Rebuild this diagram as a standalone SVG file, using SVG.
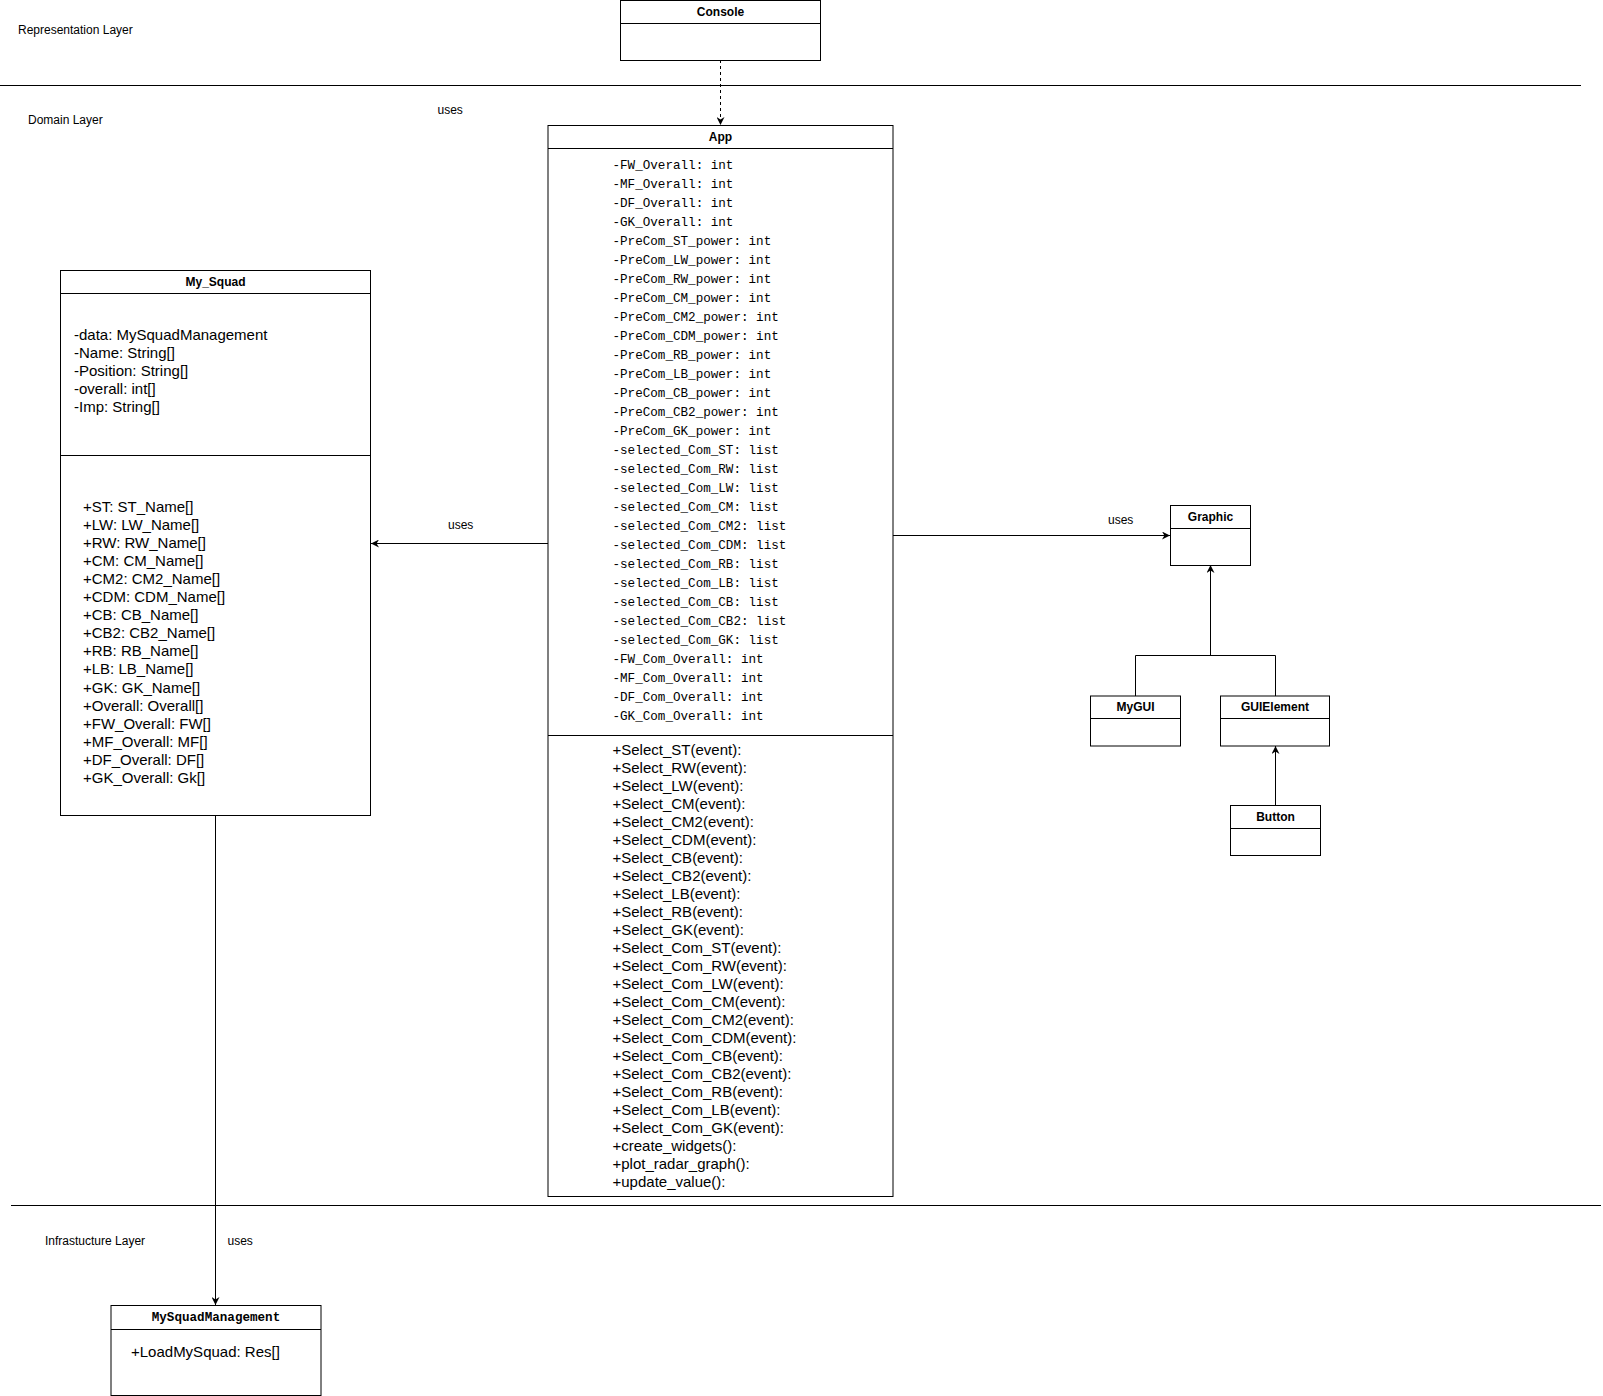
<svg xmlns="http://www.w3.org/2000/svg" width="1603" height="1396" viewBox="0 0 1603 1396">
<style>
.box{fill:#fff;stroke:#000;stroke-width:1}
.ln{stroke:#000;stroke-width:1;fill:none}
.title{font-family:"Liberation Sans",Arial,sans-serif;font-size:12px;font-weight:bold;text-anchor:middle;dominant-baseline:central}
.lbl{font-family:"Liberation Sans",Arial,sans-serif;font-size:12px;dominant-baseline:central}
.t15{font-family:"Liberation Sans",Arial,sans-serif;font-size:15px;dominant-baseline:central}
.mono{font-family:"Liberation Mono","DejaVu Sans Mono",monospace;font-size:12.6px;dominant-baseline:central}
.monob{font-family:"Liberation Mono","DejaVu Sans Mono",monospace;font-size:12.6px;font-weight:bold;text-anchor:middle;dominant-baseline:central}
</style>
<defs>
<marker id="arr" viewBox="0 0 10 10" refX="10" refY="5" markerWidth="8" markerHeight="8" markerUnits="userSpaceOnUse" orient="auto">
<path d="M0,0 L10,5 L0,10 L3,5 Z" fill="#000"/>
</marker>
</defs>
<rect width="1603" height="1396" fill="#fff"/>

<g id="layers">
<line class="ln" x1="0" y1="85.5" x2="1581" y2="85.5"/>
<line class="ln" x1="11" y1="1205.5" x2="1601" y2="1205.5"/>
<text class="lbl" x="18" y="30">Representation Layer</text>
<text class="lbl" x="28" y="119.5">Domain Layer</text>
<text class="lbl" x="45" y="1240.5">Infrastucture Layer</text>
</g>

<g id="connectors">
<line class="ln" x1="720.5" y1="60" x2="720.5" y2="125" stroke-dasharray="3,3" marker-end="url(#arr)"/>
<text class="lbl" x="437.5" y="110">uses</text>
<line class="ln" x1="550" y1="543.5" x2="371" y2="543.5" marker-end="url(#arr)"/>
<text class="lbl" x="448" y="525">uses</text>
<line class="ln" x1="893" y1="535.5" x2="1170" y2="535.5" marker-end="url(#arr)"/>
<text class="lbl" x="1108" y="520">uses</text>
<polyline class="ln" points="1135.5,696 1135.5,655.5 1275.5,655.5 1275.5,696"/>
<line class="ln" x1="1210.5" y1="655.5" x2="1210.5" y2="565" marker-end="url(#arr)"/>
<line class="ln" x1="1275.5" y1="805" x2="1275.5" y2="746" marker-end="url(#arr)"/>
<line class="ln" x1="215.5" y1="815" x2="215.5" y2="1305" marker-end="url(#arr)"/>
<text class="lbl" x="227.5" y="1240.5">uses</text>
</g>

<g id="console">
<rect class="box" x="620.5" y="0.5" width="200" height="60"/>
<line class="ln" x1="620.5" y1="23.5" x2="820.5" y2="23.5"/>
<text class="title" x="720.5" y="12">Console</text>
</g>

<g id="app">
<rect class="box" x="548" y="125.5" width="345" height="1071"/>
<line class="ln" x1="548" y1="148.5" x2="893" y2="148.5"/>
<line class="ln" x1="548" y1="735.5" x2="893" y2="735.5"/>
<text class="title" x="720.5" y="137">App</text>
<g class="mono">
<text x="612.5" y="166">-FW_Overall: int</text>
<text x="612.5" y="185">-MF_Overall: int</text>
<text x="612.5" y="204">-DF_Overall: int</text>
<text x="612.5" y="223">-GK_Overall: int</text>
<text x="612.5" y="242">-PreCom_ST_power: int</text>
<text x="612.5" y="261">-PreCom_LW_power: int</text>
<text x="612.5" y="280">-PreCom_RW_power: int</text>
<text x="612.5" y="299">-PreCom_CM_power: int</text>
<text x="612.5" y="318">-PreCom_CM2_power: int</text>
<text x="612.5" y="337">-PreCom_CDM_power: int</text>
<text x="612.5" y="356">-PreCom_RB_power: int</text>
<text x="612.5" y="375">-PreCom_LB_power: int</text>
<text x="612.5" y="394">-PreCom_CB_power: int</text>
<text x="612.5" y="413">-PreCom_CB2_power: int</text>
<text x="612.5" y="432">-PreCom_GK_power: int</text>
<text x="612.5" y="451">-selected_Com_ST: list</text>
<text x="612.5" y="470">-selected_Com_RW: list</text>
<text x="612.5" y="489">-selected_Com_LW: list</text>
<text x="612.5" y="508">-selected_Com_CM: list</text>
<text x="612.5" y="527">-selected_Com_CM2: list</text>
<text x="612.5" y="546">-selected_Com_CDM: list</text>
<text x="612.5" y="565">-selected_Com_RB: list</text>
<text x="612.5" y="584">-selected_Com_LB: list</text>
<text x="612.5" y="603">-selected_Com_CB: list</text>
<text x="612.5" y="622">-selected_Com_CB2: list</text>
<text x="612.5" y="641">-selected_Com_GK: list</text>
<text x="612.5" y="660">-FW_Com_Overall: int</text>
<text x="612.5" y="679">-MF_Com_Overall: int</text>
<text x="612.5" y="698">-DF_Com_Overall: int</text>
<text x="612.5" y="717">-GK_Com_Overall: int</text>
</g>
<g class="t15">
<text x="612.5" y="749.5">+Select_ST(event):</text>
<text x="612.5" y="767.5">+Select_RW(event):</text>
<text x="612.5" y="785.5">+Select_LW(event):</text>
<text x="612.5" y="803.5">+Select_CM(event):</text>
<text x="612.5" y="821.5">+Select_CM2(event):</text>
<text x="612.5" y="839.5">+Select_CDM(event):</text>
<text x="612.5" y="857.5">+Select_CB(event):</text>
<text x="612.5" y="875.5">+Select_CB2(event):</text>
<text x="612.5" y="893.5">+Select_LB(event):</text>
<text x="612.5" y="911.5">+Select_RB(event):</text>
<text x="612.5" y="929.5">+Select_GK(event):</text>
<text x="612.5" y="947.5">+Select_Com_ST(event):</text>
<text x="612.5" y="965.5">+Select_Com_RW(event):</text>
<text x="612.5" y="983.5">+Select_Com_LW(event):</text>
<text x="612.5" y="1001.5">+Select_Com_CM(event):</text>
<text x="612.5" y="1019.5">+Select_Com_CM2(event):</text>
<text x="612.5" y="1037.5">+Select_Com_CDM(event):</text>
<text x="612.5" y="1055.5">+Select_Com_CB(event):</text>
<text x="612.5" y="1073.5">+Select_Com_CB2(event):</text>
<text x="612.5" y="1091.5">+Select_Com_RB(event):</text>
<text x="612.5" y="1109.5">+Select_Com_LB(event):</text>
<text x="612.5" y="1127.5">+Select_Com_GK(event):</text>
<text x="612.5" y="1145.5">+create_widgets():</text>
<text x="612.5" y="1163.5">+plot_radar_graph():</text>
<text x="612.5" y="1181.5">+update_value():</text>
</g>
</g>

<g id="my_squad">
<rect class="box" x="60.5" y="270.5" width="310" height="545"/>
<line class="ln" x1="60.5" y1="293.5" x2="370.5" y2="293.5"/>
<line class="ln" x1="60.5" y1="455.5" x2="370.5" y2="455.5"/>
<text class="title" x="215.5" y="282">My_Squad</text>
<g class="t15">
<text x="74" y="334.5">-data: MySquadManagement</text>
<text x="74" y="352.6">-Name: String[]</text>
<text x="74" y="370.7">-Position: String[]</text>
<text x="74" y="388.8">-overall: int[]</text>
<text x="74" y="406.9">-Imp: String[]</text>
</g>
<g class="t15">
<text x="83" y="506.5">+ST: ST_Name[]</text>
<text x="83" y="524.55">+LW: LW_Name[]</text>
<text x="83" y="542.6">+RW: RW_Name[]</text>
<text x="83" y="560.65">+CM: CM_Name[]</text>
<text x="83" y="578.7">+CM2: CM2_Name[]</text>
<text x="83" y="596.75">+CDM: CDM_Name[]</text>
<text x="83" y="614.8">+CB: CB_Name[]</text>
<text x="83" y="632.85">+CB2: CB2_Name[]</text>
<text x="83" y="650.9">+RB: RB_Name[]</text>
<text x="83" y="668.95">+LB: LB_Name[]</text>
<text x="83" y="687">+GK: GK_Name[]</text>
<text x="83" y="705.05">+Overall: Overall[]</text>
<text x="83" y="723.1">+FW_Overall: FW[]</text>
<text x="83" y="741.15">+MF_Overall: MF[]</text>
<text x="83" y="759.2">+DF_Overall: DF[]</text>
<text x="83" y="777.25">+GK_Overall: Gk[]</text>
</g>
</g>

<g id="graphic">
<rect class="box" x="1170.5" y="505.5" width="80" height="60"/>
<line class="ln" x1="1170.5" y1="528.5" x2="1250.5" y2="528.5"/>
<text class="title" x="1210.5" y="517">Graphic</text>
</g>

<g id="mygui">
<rect class="box" x="1090.5" y="696" width="90" height="50"/>
<line class="ln" x1="1090.5" y1="718.5" x2="1180.5" y2="718.5"/>
<text class="title" x="1135.5" y="707">MyGUI</text>
</g>

<g id="guielement">
<rect class="box" x="1220.5" y="696" width="109" height="50"/>
<line class="ln" x1="1220.5" y1="718.5" x2="1329.5" y2="718.5"/>
<text class="title" x="1275" y="707">GUIElement</text>
</g>

<g id="button">
<rect class="box" x="1230.5" y="805.5" width="90" height="50"/>
<line class="ln" x1="1230.5" y1="828.5" x2="1320.5" y2="828.5"/>
<text class="title" x="1275.5" y="817">Button</text>
</g>

<g id="mysquadmanagement">
<rect class="box" x="111" y="1305.5" width="210" height="90"/>
<line class="ln" x1="111" y1="1329.5" x2="321" y2="1329.5"/>
<text class="monob" x="216" y="1317.5">MySquadManagement</text>
<text class="t15" x="131" y="1351.5">+LoadMySquad: Res[]</text>
</g>
</svg>
